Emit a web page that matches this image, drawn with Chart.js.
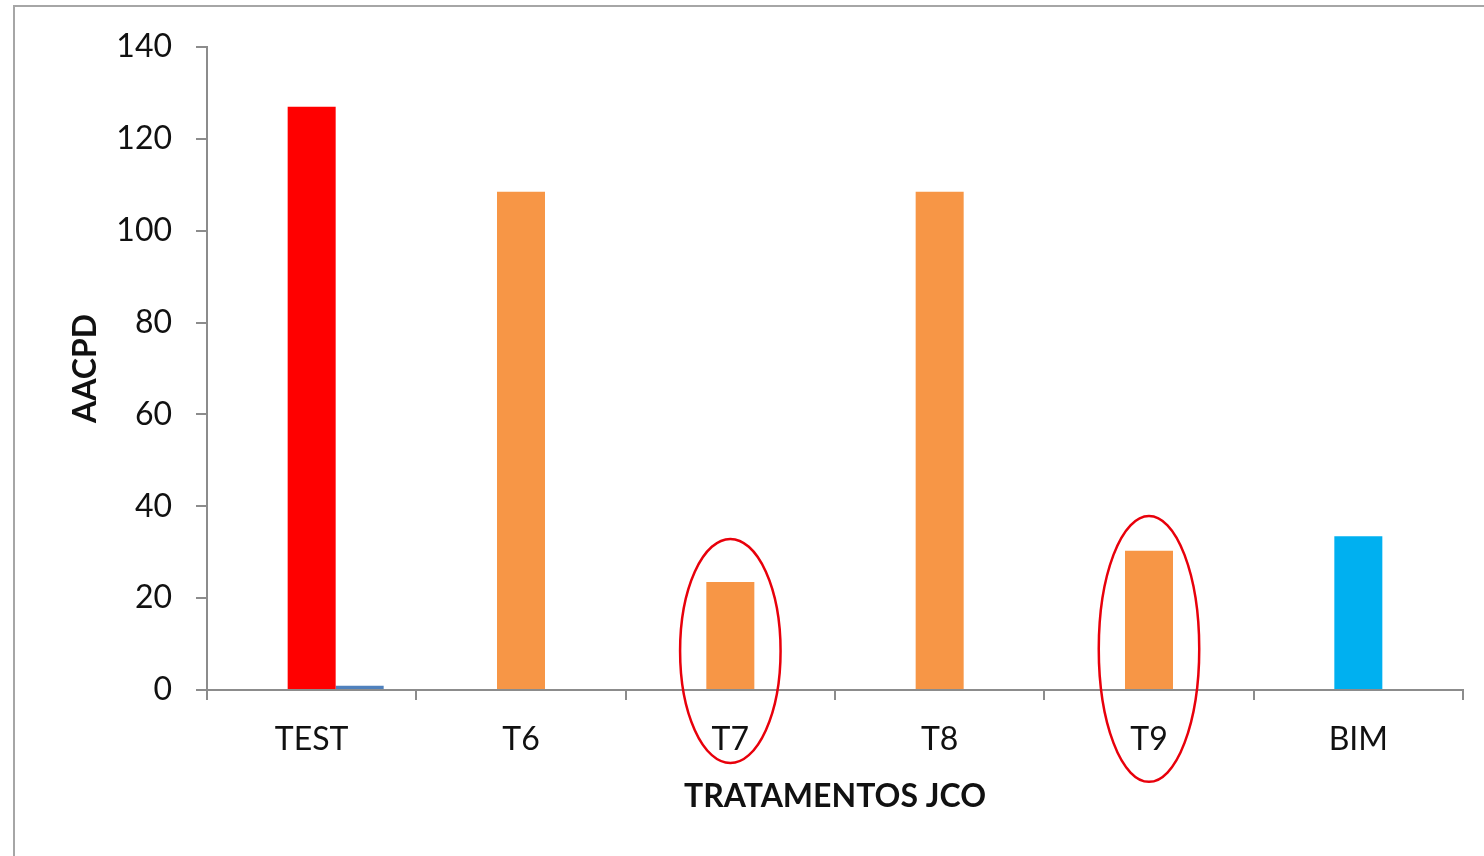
<!DOCTYPE html>
<html>
<head>
<meta charset="utf-8">
<script src="https://cdn.jsdelivr.net/npm/chart.js@4"></script>
<style>
  html, body { margin: 0; padding: 0; background: #fff; overflow: hidden; }
  #wrap { position: relative; width: 1484px; height: 856px; }
  #frame { position: absolute; left: 13px; top: 5px; width: 1500px; height: 900px; border: 2px solid #a6a6a6; box-sizing: border-box; }
  canvas { position: absolute; left: 0; top: 0; }
</style>
</head>
<body>
<div id="wrap">
  <div id="frame"></div>
  <canvas id="c" width="1484" height="856"></canvas>
</div>
<script>
// ---- data ----
const categories = ['TEST', 'T6', 'T7', 'T8', 'T9', 'BIM'];
const aacpdValues = [127, 108.5, 23.5, 108.5, 30.3, 33.5];
const barColors = ['#FF0000', '#F79646', '#F79646', '#F79646', '#F79646', '#00B0F0'];
const secondSeries = [0.9, null, null, null, null, null];
const emptySeries = [null, null, null, null, null, null];
const yTicks = [0, 20, 40, 60, 80, 100, 120, 140];
// highlighted categories (ellipses): category, top value, bottom value
const highlightCats = ['T7', 'T9'];
const highlightTop = [32.9, 37.9];
const highlightBottom = [-15.9, -20.0];
const highlightWidth = [0.48, 0.48];

const FONT = 'Lato, "Open Sans", sans-serif';

const ellipsePlugin = {
  id: 'ellipses',
  afterDraw(chart) {
    const ctx = chart.ctx;
    const xs = chart.scales.x, ys = chart.scales.y;
    const catW = xs.getPixelForValue(1) - xs.getPixelForValue(0);
    ctx.save();
    ctx.strokeStyle = '#E8000B';
    ctx.lineWidth = 2.5;
    highlightCats.forEach((c, i) => {
      const idx = categories.indexOf(c);
      const cx = xs.getPixelForValue(idx);
      const top = ys.getPixelForValue(highlightTop[i]);
      const bot = ys.getPixelForValue(highlightBottom[i]);
      const cy = (top + bot) / 2;
      const ry = (bot - top) / 2;
      const rx = catW * highlightWidth[i] / 2;
      ctx.beginPath();
      ctx.ellipse(cx, cy, rx, ry, 0, 0, Math.PI * 2);
      ctx.stroke();
    });
    ctx.restore();
  }
};

new Chart(document.getElementById('c'), {
  type: 'bar',
  data: {
    labels: categories,
    datasets: [
      { data: emptySeries, backgroundColor: '#ffffff' },
      { data: aacpdValues, backgroundColor: barColors },
      { data: secondSeries, backgroundColor: '#4F81BD' }
    ]
  },
  options: {
    responsive: false,
    animation: false,
    devicePixelRatio: 1,
    categoryPercentage: 0.688,
    barPercentage: 1.0,
    layout: { padding: { left: 62, right: 21, top: 47, bottom: 28 } },
    plugins: { legend: { display: false }, tooltip: { enabled: false } },
    scales: {
      x: {
        offset: true,
        grid: { offset: true, drawOnChartArea: false, drawTicks: true, tickLength: 10, color: '#8c8c8c', lineWidth: 2 },
        border: { display: true, color: '#8c8c8c', width: 2 },
        ticks: { font: { family: FONT, size: 32 }, color: '#111', padding: 20 },
        title: { display: true, text: 'TRATAMENTOS JCO', font: { family: FONT, size: 32, weight: 'bold' }, color: '#111', padding: { top: 0, bottom: 12 } },
        afterFit(s) { s.height = 856 - 28 - 690; }
      },
      y: {
        min: 0, max: 140,
        afterBuildTicks(s) { s.ticks = yTicks.map(v => ({ value: v })); },
        grid: { drawOnChartArea: false, drawTicks: true, tickLength: 11, color: '#8c8c8c', lineWidth: 2 },
        border: { display: true, color: '#8c8c8c', width: 2 },
        ticks: { font: { family: FONT, size: 32 }, color: '#111', padding: 24 },
        title: { display: true, text: 'AACPD', font: { family: FONT, size: 32, weight: 'bold' }, color: '#111', padding: { top: 4, bottom: 0 } },
        afterFit(s) { s.width = 207 - 62; }
      }
    }
  },
  plugins: [ellipsePlugin]
});
</script>
</body>
</html>
